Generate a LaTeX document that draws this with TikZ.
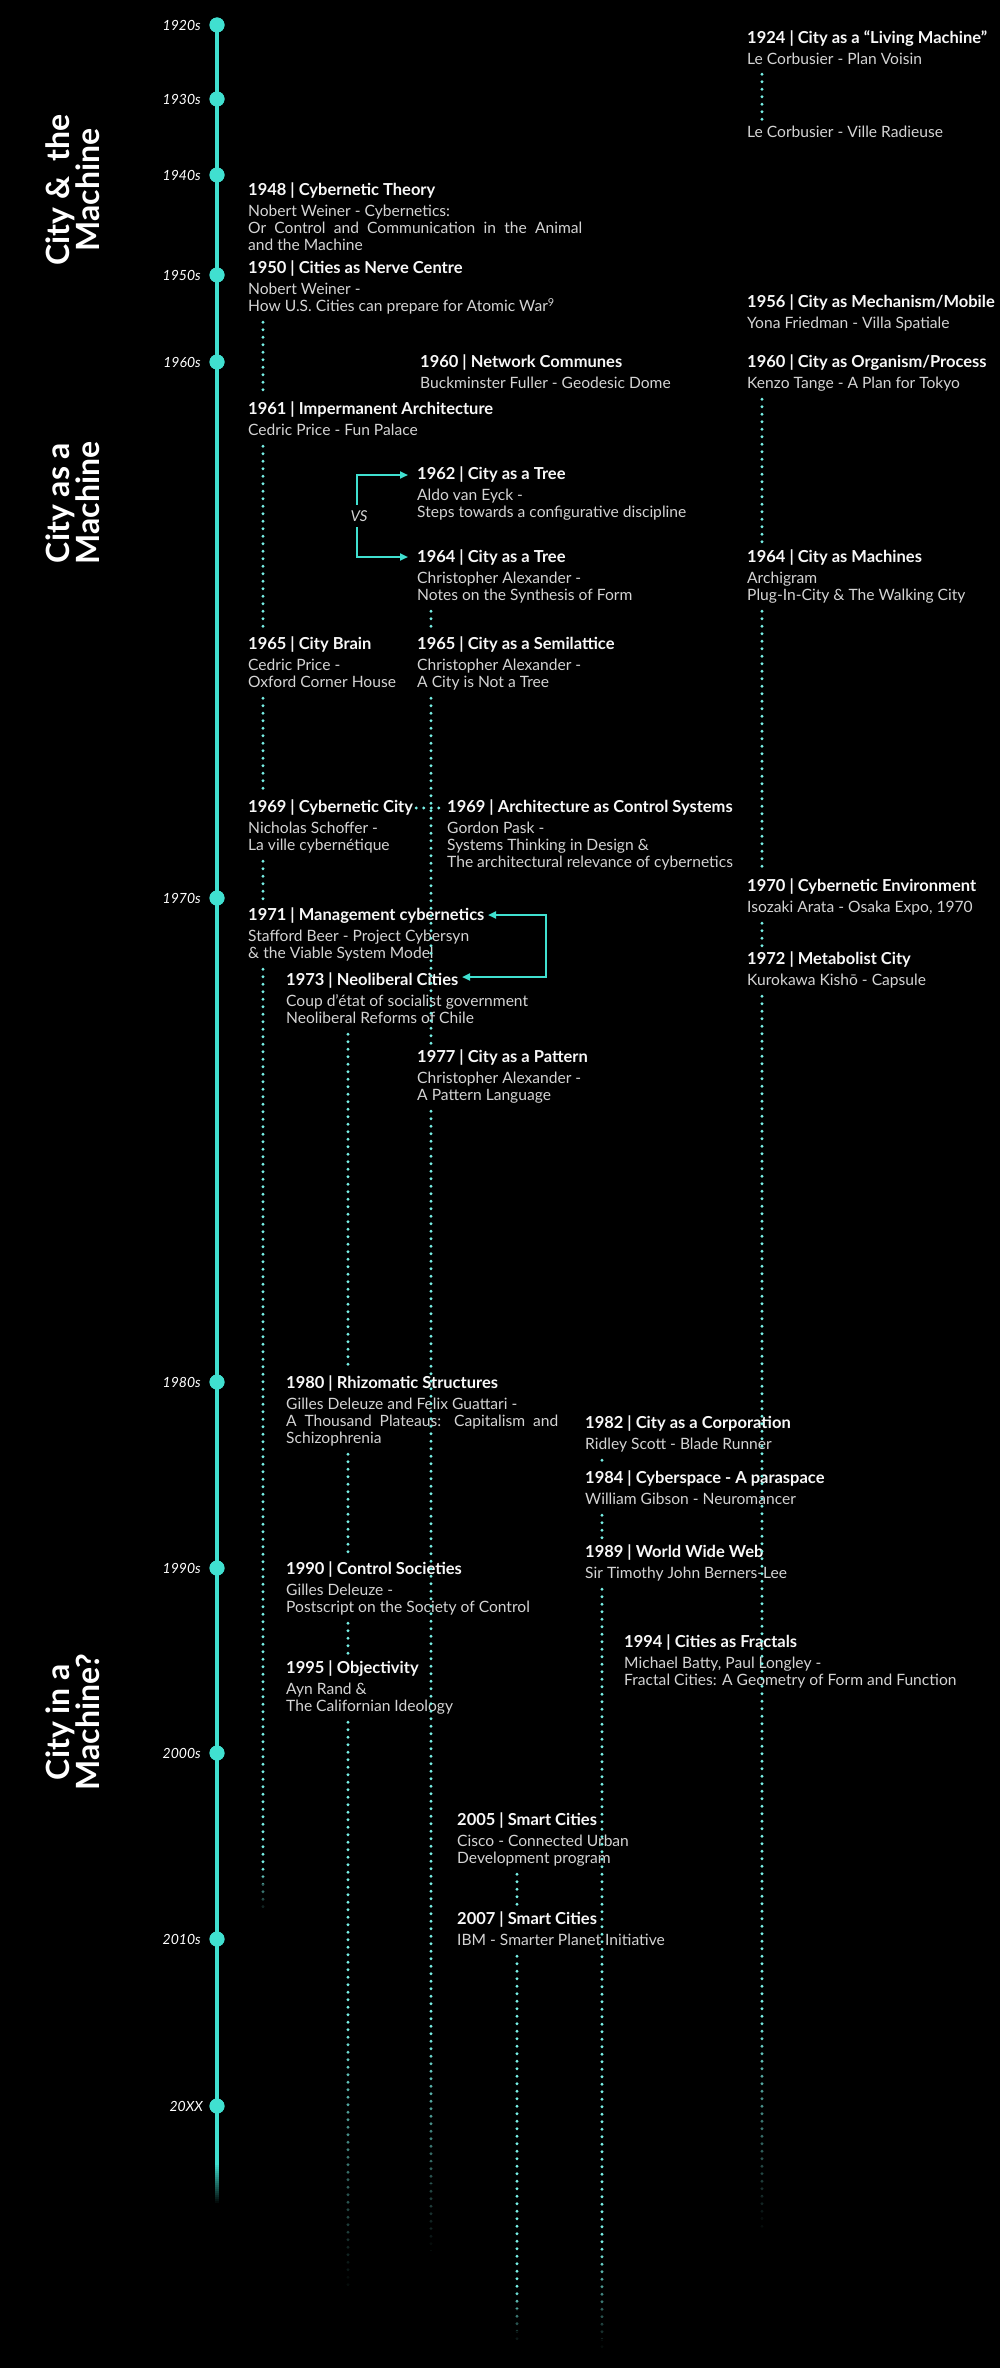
\documentclass[tikz,border=0pt]{standalone}
\usepackage{fontspec}
\usetikzlibrary{arrows.meta}
\newfontfamily\latof{Lato}
\definecolor{tlc}{RGB}{64,224,208}
\definecolor{dotc}{RGB}{120,240,230}
\definecolor{bodyc}{RGB}{212,212,212}
\definecolor{ttlc}{RGB}{248,248,248}
\newcommand\bodysize{\fontsize{15.6}{17}\selectfont}
\newcommand\ttl[1]{{\latof\bfseries\fontsize{16.5}{17}\selectfont\color{ttlc}#1}}
% darken a vertical strip step by step so a line fades into the background
\newcommand\fadeout[3]{%
  \foreach \k [evaluate=\k as \op using \k/20] in {1,...,20}{%
    \fill[black, opacity=\op] (#1-5, {#2+(\k-1)*(#3-#2)/20}) rectangle (#1+5, {#2+\k*(#3-#2)/20+0.4});
  }%
  \fill[black] (#1-5, #3) rectangle (#1+5, #3+8);}
\begin{document}
\begin{tikzpicture}[x=1pt, y=-1pt,
  ev/.style={anchor=north west, inner sep=0pt, align=left, text=bodyc, font=\latof\bodysize, text depth=4pt},
  dots/.style={draw=dotc, line width=3.3pt, line cap=round, dash pattern=on 0pt off 7.5pt, shorten <=6pt, shorten >=6pt},
  tline/.style={draw=tlc, line width=3.5pt},
  decdot/.style={circle, fill=tlc, minimum size=15pt, inner sep=0pt},
  declab/.style={anchor=east, inner sep=0pt, text=white, font=\latof\itshape\fontsize{14}{16}\selectfont},
  sect/.style={rotate=90, align=center, inner sep=0pt, text=white, font=\latof\bfseries\fontsize{32}{30}\selectfont},
  brk/.style={draw=tlc, line width=2pt, arrows={Triangle[length=8pt,width=7pt]-Triangle[length=8pt,width=7pt]}},
  vs/.style={fill=black, inner xsep=1pt, inner ysep=6pt, text=bodyc, font=\latof\itshape\fontsize{15}{16}\selectfont}
]
\fill[black] (0,0) rectangle (1000,2368);
\useasboundingbox (0,0) rectangle (1000,2368);

% ---------- main timeline ----------
\node[decdot] (d1920) at (217,25) {};
\node[decdot] (d1930) at (217,99) {};
\node[decdot] (d1940) at (217,175) {};
\node[decdot] (d1950) at (217,275) {};
\node[decdot] (d1960) at (217,362) {};
\node[decdot] (d1970) at (217,898) {};
\node[decdot] (d1980) at (217,1382) {};
\node[decdot] (d1990) at (217,1568) {};
\node[decdot] (d2000) at (217,1753) {};
\node[decdot] (d2010) at (217,1939) {};
\node[decdot] (d20xx) at (217,2106) {};
\coordinate (tlEnd) at (217,2205);
\draw[tline] (d1920.center) -- (tlEnd);
\foreach \d in {d1920,d1930,d1940,d1950,d1960,d1970,d1980,d1990,d2000,d2010,d20xx}
  \fill[tlc] (\d) circle (7.5pt);

\node[declab] (l1920) at (201,25) {1920s};
\node[declab] (l1930) at (201,99) {1930s};
\node[declab] (l1940) at (201,175) {1940s};
\node[declab] (l1950) at (201,275) {1950s};
\node[declab] (l1960) at (201,362) {1960s};
\node[declab] (l1970) at (201,898) {1970s};
\node[declab] (l1980) at (201,1382) {1980s};
\node[declab] (l1990) at (201,1568) {1990s};
\node[declab] (l2000) at (201,1753) {2000s};
\node[declab] (l2010) at (201,1939) {2010s};
\node[declab] (l20xx) at (203,2106) {20XX};

% ---------- section headings ----------
\node[sect] (s1) at (73,190) {City \&\ \ the\\Machine};
\node[sect] (s2) at (73,503) {City as a\\Machine};
\node[sect] (s3) at (73,1722) {City in a\\Machine?};

% ---------- events ----------
\node[ev] (e1924) at (747,30) {\ttl{1924 | City as a “Living Machine”}\\[4pt]Le Corbusier - Plan Voisin};
\node[ev] (eVR) at (747,126) {Le Corbusier - Ville Radieuse};
\node[ev] (e1948) at (248,183) {\ttl{1948 | Cybernetic Theory}\\[4pt]Nobert Weiner - Cybernetics:\\\makebox[334pt][s]{Or Control and Communication in the Animal}\\and the Machine};
\node[ev] (e1950) at (248,261) {\ttl{1950 | Cities as Nerve Centre}\\[4pt]Nobert Weiner -\\How U.S. Cities can prepare for Atomic War\textsuperscript{9}};
\node[ev] (e1956) at (747,295) {\ttl{1956 | City as Mechanism/Mobile}\\[4pt]Yona Friedman - Villa Spatiale};
\node[ev] (e1960n) at (420,355) {\ttl{1960 | Network Communes}\\[4pt]Buckminster Fuller - Geodesic Dome};
\node[ev] (e1960o) at (747,355) {\ttl{1960 | City as Organism/Process}\\[4pt]Kenzo Tange - A Plan for Tokyo};
\node[ev] (e1961) at (248,402) {\ttl{1961 | Impermanent Architecture}\\[4pt]Cedric Price - Fun Palace};
\node[ev] (e1962) at (417,467) {\ttl{1962 | City as a Tree}\\[4pt]Aldo van Eyck -\\Steps towards a configurative discipline};
\node[ev] (e1964t) at (417,550) {\ttl{1964 | City as a Tree}\\[4pt]Christopher Alexander -\\Notes on the Synthesis of Form};
\node[ev] (e1964m) at (747,550) {\ttl{1964 | City as Machines}\\[4pt]Archigram\\Plug-In-City \& The Walking City};
\node[ev] (e1965b) at (248,637) {\ttl{1965 | City Brain}\\[4pt]Cedric Price -\\Oxford Corner House};
\node[ev] (e1965s) at (417,637) {\ttl{1965 | City as a Semilattice}\\[4pt]Christopher Alexander -\\A City is Not a Tree};
\node[ev] (e1969c) at (248,800) {\ttl{1969 | Cybernetic City}\\[4pt]Nicholas Schoffer -\\La ville cybernétique};
\node[ev] (e1969p) at (447,800) {\ttl{1969 | Architecture as Control Systems}\\[4pt]Gordon Pask -\\Systems Thinking in Design \&\\The architectural relevance of cybernetics};
\node[ev] (e1970) at (747,879) {\ttl{1970 | Cybernetic Environment}\\[4pt]Isozaki Arata - Osaka Expo, 1970};
\node[ev] (e1971) at (248,908) {\ttl{1971 | Management cybernetics}\\[4pt]Stafford Beer - Project Cybersyn\\\& the Viable System Model};
\node[ev] (e1972) at (747,952) {\ttl{1972 | Metabolist City}\\[4pt]Kurokawa Kishō - Capsule};
\node[ev] (e1973) at (286,973) {\ttl{1973 | Neoliberal Cities}\\[4pt]Coup d’état of socialist government\\Neoliberal Reforms of Chile};
\node[ev] (e1977) at (417,1050) {\ttl{1977 | City as a Pattern}\\[4pt]Christopher Alexander -\\A Pattern Language};
\node[ev] (e1980) at (286,1376) {\ttl{1980 | Rhizomatic Structures}\\[4pt]Gilles Deleuze and Felix Guattari -\\\makebox[272pt][s]{A Thousand Plateaus: Capitalism and}\\Schizophrenia};
\node[ev] (e1982) at (585,1416) {\ttl{1982 | City as a Corporation}\\[4pt]Ridley Scott - Blade Runner};
\node[ev] (e1984) at (585,1471) {\ttl{1984 | Cyberspace - A paraspace}\\[4pt]William Gibson - Neuromancer};
\node[ev] (e1989) at (585,1545) {\ttl{1989 | World Wide Web}\\[4pt]Sir Timothy John Berners-Lee};
\node[ev] (e1990) at (286,1562) {\ttl{1990 | Control Societies}\\[4pt]Gilles Deleuze -\\Postscript on the Society of Control};
\node[ev] (e1994) at (624,1635) {\ttl{1994 | Cities as Fractals}\\[4pt]Michael Batty, Paul Longley -\\Fractal Cities: A Geometry of Form and Function};
\node[ev] (e1995) at (286,1661) {\ttl{1995 | Objectivity}\\[4pt]Ayn Rand \&\\The Californian Ideology};
\node[ev] (e2005) at (457,1813) {\ttl{2005 | Smart Cities}\\[4pt]Cisco - Connected Urban\\Development program};
\node[ev] (e2007) at (457,1912) {\ttl{2007 | Smart Cities}\\[4pt]IBM - Smarter Planet Initiative};

% ---------- dotted threads ----------
\coordinate (colA) at (263,0);
\coordinate (colB) at (348,0);
\coordinate (colC) at (431,0);
\coordinate (colF) at (517,0);
\coordinate (colD) at (602,0);
\coordinate (colE) at (762,0);
\coordinate (endA) at (263,1915);
\coordinate (endB) at (348,2300);
\coordinate (endC) at (431,2262);
\coordinate (endF) at (517,2345);
\coordinate (endD) at (602,2355);
\coordinate (endE) at (762,2240);

\draw[dots] (e1924.south -| colE) -- (eVR.north -| colE);
\draw[dots] (e1960o.south -| colE) -- (e1964m.north -| colE);
\draw[dots] (e1964m.south -| colE) -- (e1970.north -| colE);
\draw[dots] (e1970.south -| colE) -- (e1972.north -| colE);
\draw[dots, shorten >=0pt] (e1972.south -| colE) -- (endE);

\draw[dots] (e1950.south -| colA) -- (e1961.north -| colA);
\draw[dots] (e1961.south -| colA) -- (e1965b.north -| colA);
\draw[dots] (e1965b.south -| colA) -- (e1969c.north -| colA);
\draw[dots] (e1969c.south -| colA) -- (e1971.north -| colA);
\draw[dots, shorten >=0pt] (e1971.south -| colA) -- (endA);

\draw[dots] (e1964t.south -| colC) -- (e1965s.north -| colC);
\draw[dots] (e1965s.south -| colC) -- (e1977.north -| colC);
\draw[dots, shorten >=0pt] (e1977.south -| colC) -- (endC);

\draw[dots] (e1973.south -| colB) -- (e1980.north -| colB);
\draw[dots] (e1980.south -| colB) -- (e1990.north -| colB);
\draw[dots] (e1990.south -| colB) -- (e1995.north -| colB);
\draw[dots, shorten >=0pt] (e1995.south -| colB) -- (endB);

\draw[dots] (e1982.south -| colD) -- (e1984.north -| colD);
\draw[dots] (e1984.south -| colD) -- (e1989.north -| colD);
\draw[dots, shorten >=0pt] (e1989.south -| colD) -- (endD);

\draw[dots] (e2005.south -| colF) -- (e2007.north -| colF);
\draw[dots, shorten >=0pt] (e2007.south -| colF) -- (endF);

\coordinate (hy) at (0,808);
\draw[dots, shorten <=3pt, shorten >=3pt] (hy -| e1969c.east) -- (hy -| e1969p.west);

% ---------- comparison brackets ----------
\coordinate (v1) at (357,475);
\coordinate (v2) at (357,557);
\draw[brk] ([xshift=-9pt]v1 -| e1962.west) -- (v1) -- (v2) -- ([xshift=-9pt]v2 -| e1964t.west);
\node[vs] (vs) at (359,516) {VS};

\coordinate (r1) at (546,915);
\coordinate (r2) at (546,977);
\coordinate (a1) at (488,915);
\coordinate (a2) at (462,977);
\draw[brk] (a1) -- (r1) -- (r2) -- (a2);

% ---------- fading ends ----------
\fadeout{217}{2165}{2205}
\fadeout{263}{1868}{1915}
\fadeout{348}{2030}{2300}
\fadeout{431}{2040}{2262}
\fadeout{517}{2290}{2345}
\fadeout{602}{2250}{2355}
\fadeout{762}{2020}{2240}
\end{tikzpicture}
\end{document}
